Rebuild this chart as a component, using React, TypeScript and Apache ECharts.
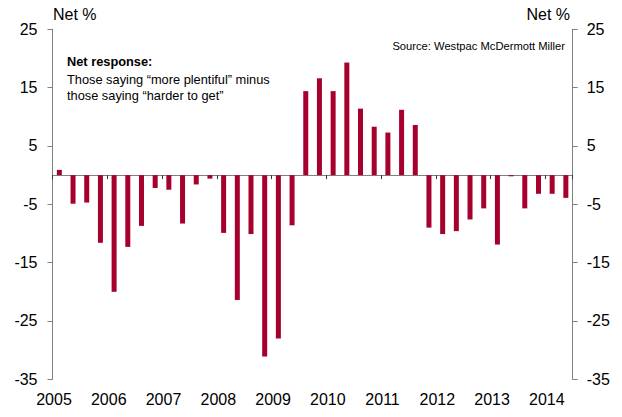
import React, { useEffect, useRef } from "react";
import * as echarts from "echarts";

const quarters: string[] = [
  "2005Q1", "2005Q2", "2005Q3", "2005Q4",
  "2006Q1", "2006Q2", "2006Q3", "2006Q4",
  "2007Q1", "2007Q2", "2007Q3", "2007Q4",
  "2008Q1", "2008Q2", "2008Q3", "2008Q4",
  "2009Q1", "2009Q2", "2009Q3", "2009Q4",
  "2010Q1", "2010Q2", "2010Q3", "2010Q4",
  "2011Q1", "2011Q2", "2011Q3", "2011Q4",
  "2012Q1", "2012Q2", "2012Q3", "2012Q4",
  "2013Q1", "2013Q2", "2013Q3", "2013Q4",
  "2014Q1", "2014Q2",
];

const netResponse: number[] = [
  0.9, -4.9, -4.7, -11.6,
  -20.0, -12.3, -8.7, -2.2,
  -2.5, -8.3, -1.6, -0.6,
  -9.9, -21.4, -10.1, -31.1,
  -28.0, -8.6, 14.4, 16.6,
  14.4, 19.3, 11.4, 8.3,
  7.3, 11.2, 8.6, -9.0,
  -10.1, -9.6, -7.6, -5.7,
  -11.9, -0.2, -5.7, -3.2,
  -3.2, -3.9,
];

const yTicks = { min: -35, max: 25, interval: 10 };
const yearAxis = { min: 2005, max: 2014.5, interval: 1 };

const titleLeft = "Net %";
const titleRight = "Net %";
const noteHead = "Net response:";
const noteLines = ["Those saying \u201cmore plentiful\u201d minus", "those saying \u201charder to get\u201d"];
const sourceText = "Source: Westpac McDermott Miller";

const FONT = "'Liberation Sans', Arial, sans-serif";

export default function App() {
  const ref = useRef<HTMLDivElement>(null);
  useEffect(() => {
    if (!ref.current) return;
    const chart = echarts.init(ref.current, null, { renderer: "svg" });
    const grid = { left: 52.5, top: 29.3, width: 520.2, height: 350 };
    const axisGrey = "#808080";
    const yAxisBase = {
      type: "value",
      min: yTicks.min,
      max: yTicks.max,
      interval: yTicks.interval,
      splitLine: { show: false },
      axisLine: { show: true, onZero: false, lineStyle: { color: axisGrey, width: 1 } },
      axisTick: { show: true, inside: false, length: 5, lineStyle: { color: axisGrey } },
    };
    chart.setOption({
      animation: false,
      textStyle: { fontFamily: FONT },
      grid,
      xAxis: [
        {
          type: "category",
          data: quarters,
          boundaryGap: true,
          axisLine: { show: true, onZero: true, lineStyle: { color: axisGrey, width: 1 } },
          axisTick: { show: true, interval: 3, length: 4, lineStyle: { color: "#333" } },
          axisLabel: { show: false },
          splitLine: { show: false },
        },
        {
          type: "value",
          position: "bottom",
          min: yearAxis.min,
          max: yearAxis.max,
          interval: yearAxis.interval,
          axisLine: { show: false, onZero: false },
          axisTick: { show: false },
          splitLine: { show: false },
          axisLabel: {
            show: true,
            margin: 12,
            fontSize: 16,
            color: "#000",
            fontFamily: FONT,
            showMinLabel: true,
            showMaxLabel: true,
            padding: [0, 0, 0, 3],
            formatter: (v: number) => (Number.isInteger(v) ? String(v) : ""),
          },
        },
      ],
      yAxis: [
        {
          ...yAxisBase,
          position: "left",
          axisLabel: { fontSize: 16, color: "#000", margin: 15, fontFamily: FONT },
        },
        {
          ...yAxisBase,
          position: "right",
          axisLabel: { fontSize: 16, color: "#000", margin: 14, fontFamily: FONT },
        },
      ],
      series: [
        {
          type: "bar",
          xAxisIndex: 0,
          yAxisIndex: 0,
          data: netResponse,
          barWidth: 5,
          itemStyle: { color: "#A6002D" },
        },
      ],
      graphic: [
        {
          type: "text",
          left: 53,
          top: 6,
          style: { text: titleLeft, font: `16px ${FONT}`, fill: "#000" },
        },
        {
          type: "text",
          right: 52,
          top: 6,
          style: { text: titleRight, font: `16px ${FONT}`, fill: "#000" },
        },
        {
          type: "text",
          left: 67,
          top: 55,
          style: { text: noteHead, font: `bold 12.8px ${FONT}`, fill: "#000" },
        },
        {
          type: "text",
          left: 67,
          top: 71,
          style: { text: noteLines.join("\n"), font: `12.8px ${FONT}`, lineHeight: 16.5, fill: "#000" },
        },
        {
          type: "text",
          right: 57,
          top: 40,
          style: { text: sourceText, font: `11.2px ${FONT}`, fill: "#000" },
        },
      ],
    });
    return () => chart.dispose();
  }, []);
  return (
    <div
      ref={ref}
      style={{ position: "fixed", left: 0, top: 0, width: 622, height: 417, background: "#fff" }}
    />
  );
}
